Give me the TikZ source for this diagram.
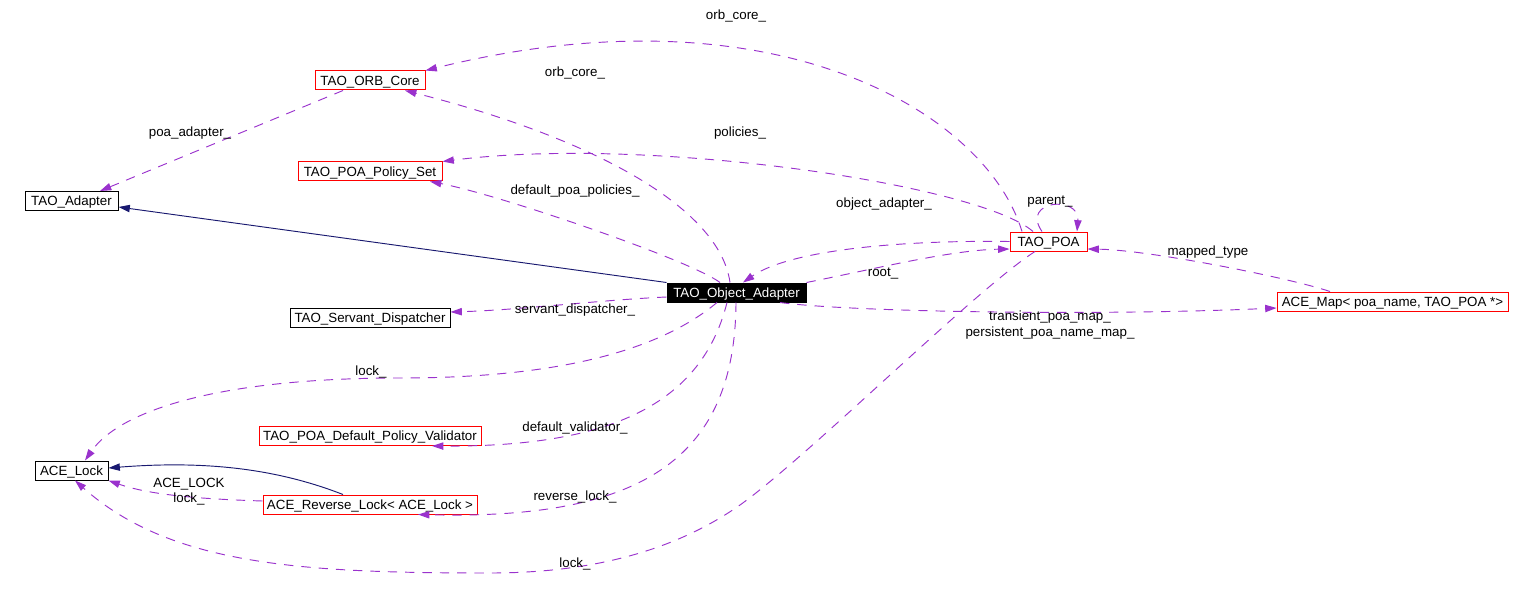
\documentclass[tikz,border=0pt]{standalone}
\usepackage{fontspec}
\setmainfont{Liberation Sans}
\usetikzlibrary{arrows.meta}
\definecolor{dox}{HTML}{9A32CD}
\definecolor{inhc}{HTML}{191970}
\begin{document}
\begin{tikzpicture}[x=0.75pt,y=-0.75pt,
  every node/.style={font=\fontsize{10}{12}\selectfont},
  box/.style={draw=red, line width=0.75pt, fill=white, inner sep=0pt, minimum height=14.25pt, text height=7.2pt, text depth=0pt},
  bbox/.style={box, draw=black},
  rel/.style={draw=dox, line width=0.7pt, dash pattern=on 7pt off 6pt, -{Triangle[length=8.5pt,width=5.5pt]}},
  inh/.style={draw=inhc, line width=0.7pt, -{Triangle[length=8.5pt,width=5.5pt]}},
  lbl/.style={anchor=base, inner sep=0pt}]
\useasboundingbox[fill=white] (0,0) rectangle (1534,599);

% nodes
\node[box, minimum width=82.5pt] (orb) at (370,80.5) {TAO\_ORB\_Core};
\node[box, minimum width=108pt] (pset) at (370,171.5) {TAO\_POA\_Policy\_Set};
\node[bbox, minimum width=69.75pt] (adapter) at (71.5,201) {TAO\_Adapter};
\node[bbox, fill=black, text=white, minimum width=104.25pt] (oa) at (736.5,292.5) {TAO\_Object\_Adapter};
\node[box, minimum width=57.75pt] (poa) at (1048.5,241.5) {TAO\_POA};
\node[box, minimum width=173.25pt] (map) at (1392.5,301.5) {ACE\_Map< poa\_name, TAO\_POA *>};
\node[bbox, minimum width=120pt] (sd) at (370,317.5) {TAO\_Servant\_Dispatcher};
\node[box, minimum width=166.5pt] (dpv) at (370,436) {TAO\_POA\_Default\_Policy\_Validator};
\node[bbox, minimum width=54.75pt] (lock) at (71.5,470.5) {ACE\_Lock};
\node[box, minimum width=160.5pt] (rlock) at (370,504.5) {ACE\_Reverse\_Lock< ACE\_Lock >};

% inheritance
\draw[inh] (oa.north west) -- (adapter.east |- 0,207);
\draw[inh] (rlock.north -| 343,0) .. controls (280,470) and (210,460) .. (lock.east |- 0,468);

% relations
\draw[rel] (orb.south -| 343,0) -- (adapter.north -| 100,0);
\draw[rel] (oa.north -| 730,0) .. controls (720,210) and (600,140) .. (orb.south -| 405,0);
\draw[rel] (oa.north -| 720,0) .. controls (690,260) and (500,195) .. (pset.south -| 430,0);
\draw[rel] (poa.north -| 1022,0) .. controls (985,110) and (770,-15) .. (orb.north east);
\draw[rel] (poa.north -| 1033,0) .. controls (980,185) and (650,135) .. (pset.north east);
\draw[rel] (poa.west) .. controls (900,240) and (790,250) .. (oa.north -| 743,0);
\draw[rel] (oa.north east) .. controls (870,270) and (950,250) .. (poa.west |- 0,249);
\draw[rel] (poa.north -| 1042,0) .. controls (1020,200) and (1080,195) .. (poa.north -| 1077,0);
\draw[rel] (map.north -| 1330,0) .. controls (1290,278) and (1150,250) .. (poa.east |- 0,249);
\draw[rel] (oa.south -| 780,0) .. controls (850,312) and (1100,316) .. (map.west |- 0,308);
\draw[rel] (oa.west |- 0,297) .. controls (600,300) and (520,310) .. (sd.east |- 0,312);
\draw[rel] (oa.south -| 717,0) .. controls (660,350) and (560,378) .. (400,378)
  .. controls (220,378) and (120,410) .. (lock.north -| 85,0);
\draw[rel] (oa.south -| 727,0) .. controls (700,410) and (600,447) .. (dpv.south -| 432,0);
\draw[rel] (oa.south -| 736,0) .. controls (735,460) and (640,520) .. (rlock.south -| 418,0);
\draw[rel] (rlock.west |- 0,501) .. controls (200,499) and (150,495) .. (lock.south east);
\draw[rel] (poa.south -| 1035,0) .. controls (975,290) and (810,455) .. (740,505)
  .. controls (680,547) and (600,573) .. (490,573)
  .. controls (300,573) and (170,565) .. (lock.south -| 75,0);

% labels
\node[lbl] (l1) at (736,19.5) {orb\_core\_};
\node[lbl] (l2) at (575,76.5) {orb\_core\_};
\node[lbl] (l3) at (190,136.5) {poa\_adapter\_};
\node[lbl] (l4) at (740,137) {policies\_};
\node[lbl] (l5) at (575,194.5) {default\_poa\_policies\_};
\node[lbl] (l6) at (884,207) {object\_adapter\_};
\node[lbl] (l7) at (1050,204.5) {parent\_};
\node[lbl] (l8) at (1208,255.5) {mapped\_type};
\node[lbl] (l9) at (883,276) {root\_};
\node[lbl] (l10) at (575,313.5) {servant\_dispatcher\_};
\node[lbl] (l11) at (1050,320.5) {transient\_poa\_map\_};
\node[lbl] (l12) at (1050,336.5) {persistent\_poa\_name\_map\_};
\node[lbl] (l13) at (371,375) {lock\_};
\node[lbl] (l14) at (575,431.5) {default\_validator\_};
\node[lbl] (l15) at (189,487.5) {ACE\_LOCK};
\node[lbl] (l16) at (189,502.5) {lock\_};
\node[lbl] (l17) at (575,500.5) {reverse\_lock\_};
\node[lbl] (l18) at (575,567.5) {lock\_};
\end{tikzpicture}
\end{document}
